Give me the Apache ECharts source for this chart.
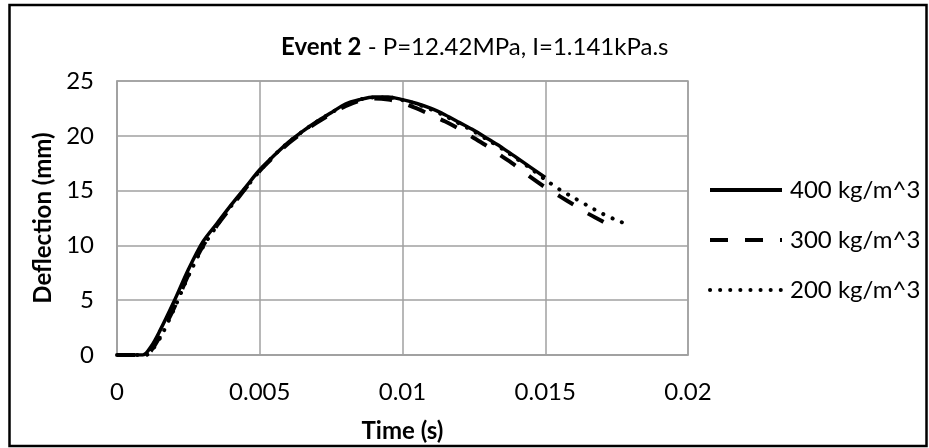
<!DOCTYPE html>
<html>
<head>
<meta charset="utf-8">
<script src="https://cdn.jsdelivr.net/npm/echarts@6/dist/echarts.min.js"></script>
<style>
html,body{margin:0;padding:0;background:#fff;}
#chart{width:929px;height:448px;}
</style>
</head>
<body>
<div id="chart"></div>
<script>
// ---- data ----
const seriesNames = ['400 kg/m^3', '300 kg/m^3', '200 kg/m^3'];

const t400 = [0, 0.0009, 0.0012, 0.0015, 0.002, 0.0025, 0.003, 0.0035, 0.004, 0.0045, 0.005, 0.0055, 0.006, 0.0065, 0.007, 0.0075, 0.008, 0.0085, 0.009, 0.0095, 0.01, 0.0105, 0.011, 0.0115, 0.012, 0.0125, 0.013, 0.0135, 0.014, 0.0145, 0.015];
const d400 = [0, 0, 0.8, 2.2, 4.9, 7.8, 10.3, 12.0, 13.7, 15.3, 16.9, 18.2, 19.4, 20.4, 21.3, 22.1, 22.9, 23.3, 23.55, 23.55, 23.3, 22.95, 22.5, 21.9, 21.2, 20.5, 19.7, 18.9, 18.0, 17.1, 16.2];

const t300 = [0, 0.001, 0.0013, 0.0016, 0.002, 0.0025, 0.003, 0.0035, 0.004, 0.0045, 0.005, 0.0055, 0.006, 0.0065, 0.007, 0.0075, 0.008, 0.0085, 0.009, 0.0095, 0.01, 0.0105, 0.011, 0.0115, 0.012, 0.0125, 0.013, 0.0135, 0.014, 0.0145, 0.015, 0.0155, 0.016, 0.0165, 0.017, 0.0175];
const d300 = [0, 0, 0.8, 2.2, 4.3, 7.3, 9.9, 11.8, 13.5, 15.2, 16.8, 18.1, 19.3, 20.3, 21.2, 22.0, 22.7, 23.2, 23.4, 23.3, 23.0, 22.5, 21.9, 21.3, 20.6, 19.8, 19.0, 18.1, 17.2, 16.2, 15.3, 14.5, 13.7, 12.9, 12.2, 11.4];

const t200 = [0, 0.001, 0.0013, 0.0016, 0.002, 0.0025, 0.003, 0.0035, 0.004, 0.0045, 0.005, 0.0055, 0.006, 0.0065, 0.007, 0.0075, 0.008, 0.0085, 0.009, 0.0095, 0.01, 0.0105, 0.011, 0.0115, 0.012, 0.0125, 0.013, 0.0135, 0.014, 0.0145, 0.015, 0.0155, 0.016, 0.0165, 0.017, 0.0175, 0.018];
const d200 = [0, 0, 0.7, 2.0, 4.2, 7.2, 9.8, 11.8, 13.6, 15.2, 16.8, 18.2, 19.4, 20.4, 21.3, 22.1, 22.8, 23.3, 23.5, 23.5, 23.25, 22.9, 22.4, 21.8, 21.1, 20.4, 19.6, 18.8, 17.9, 17.0, 16.0, 15.1, 14.35, 13.6, 12.9, 12.3, 11.8];

const xTicks = [0, 0.005, 0.01, 0.015, 0.02];
const yTicks = [0, 5, 10, 15, 20, 25];

const titleBold = 'Event 2';
const titleRest = ' - P=12.42MPa, I=1.141kPa.s';
const xName = 'Time (s)';
const yName = 'Deflection (mm)';

// ---- chart ----
const FONT = 'Lato';
const FS = 24;
const pairs = (t, d) => t.map((x, i) => [x, d[i]]);
const gridColor = '#a0a0a0';

const chart = echarts.init(document.getElementById('chart'), null, {renderer: 'canvas'});
chart.setOption({
  animation: false,
  backgroundColor: '#fff',
  graphic: [{
    type: 'rect',
    shape: {x: 9.5, y: 5, width: 917, height: 441},
    style: {fill: 'none', stroke: '#000', lineWidth: 2.5},
    silent: true
  }],
  title: {
    text: '{b|' + titleBold + '}{n|' + titleRest + '}',
    left: 276,
    top: 30,
    textStyle: {
      rich: {
        b: {fontFamily: FONT, fontWeight: 'bold', fontSize: FS, color: '#000'},
        n: {fontFamily: FONT, fontWeight: 'normal', fontSize: FS, color: '#000'}
      }
    }
  },
  grid: {
    left: 117, top: 81, width: 571, height: 275,
    show: true, borderColor: gridColor, borderWidth: 1.5, containLabel: false
  },
  legend: {
    orient: 'vertical',
    left: 703,
    top: 173,
    itemWidth: 72,
    itemHeight: 14,
    itemGap: 26,
    data: seriesNames,
    itemStyle: {opacity: 0},
    lineStyle: {width: 4},
    textStyle: {fontFamily: FONT, fontSize: FS, color: '#000', lineHeight: 24, padding: [0, 0, 0, 3]}
  },
  xAxis: {
    type: 'value',
    min: xTicks[0],
    max: xTicks[xTicks.length - 1],
    interval: xTicks[1] - xTicks[0],
    name: xName,
    nameLocation: 'middle',
    nameGap: 64,
    nameTextStyle: {fontFamily: FONT, fontWeight: 'bold', fontSize: FS, color: '#000'},
    axisLine: {show: true, lineStyle: {color: gridColor, width: 1.5}},
    axisTick: {show: false},
    axisLabel: {
      fontFamily: FONT, fontSize: FS, color: '#000', margin: 25,
      formatter: v => String(xTicks.find(x => Math.abs(x - v) < 1e-9) ?? v)
    },
    splitLine: {show: true, lineStyle: {color: gridColor, width: 1.5}}
  },
  yAxis: {
    type: 'value',
    min: yTicks[0],
    max: yTicks[yTicks.length - 1],
    interval: yTicks[1] - yTicks[0],
    name: yName,
    nameLocation: 'middle',
    nameGap: 61,
    nameRotate: 90,
    nameTextStyle: {fontFamily: FONT, fontWeight: 'bold', fontSize: FS, color: '#000'},
    axisLine: {show: true, lineStyle: {color: gridColor, width: 1.5}},
    axisTick: {show: false},
    axisLabel: {fontFamily: FONT, fontSize: FS, color: '#000', margin: 23},
    splitLine: {show: true, lineStyle: {color: gridColor, width: 1.5}}
  },
  series: [
    {
      name: seriesNames[0], type: 'line', data: pairs(t400, d400),
      symbol: 'none', smooth: 0.3,
      lineStyle: {color: '#000', width: 3.5, type: 'solid'},
      itemStyle: {color: '#000'}
    },
    {
      name: seriesNames[1], type: 'line', data: pairs(t300, d300),
      symbol: 'none', smooth: 0.3,
      lineStyle: {color: '#000', width: 4, type: [18, 17], cap: 'butt'},
      itemStyle: {color: '#000'}
    },
    {
      name: seriesNames[2], type: 'line', data: pairs(t200, d200),
      symbol: 'none', smooth: 0.3,
      lineStyle: {color: '#000', width: 4, type: [0.1, 10], cap: 'round'},
      itemStyle: {color: '#000'}
    }
  ]
});
</script>
</body>
</html>
